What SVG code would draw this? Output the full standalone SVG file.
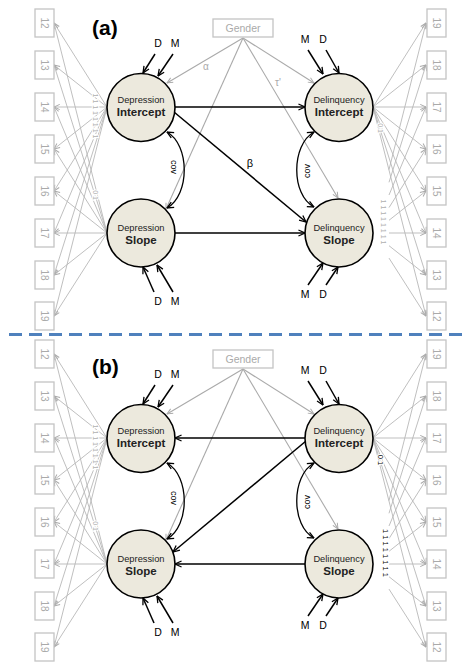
<svg xmlns="http://www.w3.org/2000/svg" width="476" height="671" viewBox="0 0 476 671">
<defs>
<marker id="ab" viewBox="0 0 10 10" refX="9.2" refY="5" markerWidth="8" markerHeight="8" markerUnits="userSpaceOnUse" orient="auto-start-reverse"><path d="M1,1.3 L9.2,5 L1,8.7" fill="none" stroke="#000" stroke-width="1.6"/></marker>
<marker id="ag" viewBox="0 0 10 10" refX="9.2" refY="5" markerWidth="7" markerHeight="7" markerUnits="userSpaceOnUse" orient="auto"><path d="M1,1.3 L9.2,5 L1,8.7" fill="none" stroke="#aaa" stroke-width="1.4"/></marker>
</defs>
<style>
text{font-family:"Liberation Sans",Arial,sans-serif}
.ind{stroke:#b8b8b8;stroke-width:0.9;fill:none;marker-end:url(#ag)}
.gen{stroke:#aaa;stroke-width:1.1;fill:none;marker-end:url(#ag)}
.blk{stroke:#000;stroke-width:1.5;fill:none;marker-end:url(#ab)}
.cov{stroke:#000;stroke-width:1.3;fill:none;marker-start:url(#ab);marker-end:url(#ab)}
.box rect{fill:#fff;stroke:#c4c4c4;stroke-width:1.3}
.box text{font-size:10px;fill:#aaa}
.lat circle{fill:#ece9dd;stroke:#000;stroke-width:1.6}
.lat text{text-anchor:middle;fill:#222}
.t1{font-size:9.3px}
.t2{font-size:11.5px;font-weight:bold}
.dm{font-size:10.5px;fill:#000;text-anchor:middle}
.ld{font-size:7px;fill:#b0b0b0;text-anchor:middle;stroke:#fff;stroke-width:2.2;paint-order:stroke}
.ldb{font-size:7.5px;fill:#000;text-anchor:middle;stroke:#fff;stroke-width:2.2;paint-order:stroke}
.gl{font-size:10px;fill:#aaa;text-anchor:middle}
.covt{font-size:9px;fill:#000;text-anchor:middle}
.gbox rect{fill:#fff;stroke:#c4c4c4;stroke-width:1.3}
.gbox text{font-size:10.5px;fill:#aaa;text-anchor:middle}
.ttl{font-size:21px;font-weight:bold;fill:#000}
</style>
<rect width="476" height="671" fill="#fff"/>

<!-- ================= PANEL A ================= -->
<g id="panel-a">
<text class="ttl" x="92" y="34.5">(a)</text>
<g id="a-connectors">
 <path class="ind" d="M107,107 L54,23"/><path class="ind" d="M107,107 L54,65"/><path class="ind" d="M107,107 L54,107"/><path class="ind" d="M107,107 L54,149"/>
 <path class="ind" d="M107,107 L54,191"/><path class="ind" d="M107,107 L54,233"/><path class="ind" d="M107,107 L54,275"/><path class="ind" d="M107,107 L54,316"/>
 <path class="ind" d="M107,233 L54,23"/><path class="ind" d="M107,233 L54,65"/><path class="ind" d="M107,233 L54,107"/><path class="ind" d="M107,233 L54,149"/>
 <path class="ind" d="M107,233 L54,191"/><path class="ind" d="M107,233 L54,233"/><path class="ind" d="M107,233 L54,275"/><path class="ind" d="M107,233 L54,316"/>
 <path class="ind" d="M373,107 L426,23"/><path class="ind" d="M373,107 L426,65"/><path class="ind" d="M373,107 L426,107"/><path class="ind" d="M373,107 L426,149"/>
 <path class="ind" d="M373,107 L426,191"/><path class="ind" d="M373,107 L426,233"/><path class="ind" d="M373,107 L426,275"/><path class="ind" d="M373,107 L426,316"/>
 <path class="ind" d="M389,169.6 L426,23"/><path class="ind" d="M389,182.3 L426,65"/><path class="ind" d="M389,195 L426,107"/><path class="ind" d="M389,207.6 L426,149"/>
 <path class="ind" d="M389,220.3 L426,191"/><path class="ind" d="M389,233 L426,233"/><path class="ind" d="M389,245.7 L426,275"/><path class="ind" d="M389,258.1 L426,316"/>
 <path class="gen" d="M243,38 L167,83"/>
 <path class="gen" d="M243,38 L314,83"/>
 <path class="gen" d="M243,38 L166,209"/>
 <path class="gen" d="M243,38 L338,198"/>
 <path class="blk" d="M175,107 L305,107"/>
 <path class="blk" d="M174,112 L306,222"/>
 <path class="blk" d="M175,233 L305,233"/>
 <path class="blk" d="M155,54 L143,73"/><path class="blk" d="M173,54 L158,76"/>
 <path class="blk" d="M154,292 L143,267"/><path class="blk" d="M173,292 L157,265"/>
 <path class="blk" d="M308,50 L323,74"/><path class="blk" d="M326,50 L339,73"/>
 <path class="blk" d="M308,285 L323,263"/><path class="blk" d="M326,285 L338,267"/>
 <path class="cov" d="M167,132 C190,145 190,195 167,208"/>
 <path class="cov" d="M314,132 C291,145 291,195 314,207"/>
 <text class="gl" x="206" y="70">α</text>
 <text class="gl" x="278" y="86">τ'</text>
 <text x="250" y="167" style="font-size:11px;text-anchor:middle;fill:#000">β</text>
 <text class="covt" x="170.5" y="167" transform="rotate(90 170.5 167)">cov</text>
 <text class="covt" x="310" y="171" transform="rotate(-90 310 171)">cov</text>
 <text class="dm" x="158" y="47">D</text><text class="dm" x="175" y="47">M</text>
 <text class="dm" x="158" y="305">D</text><text class="dm" x="175" y="305">M</text>
 <text class="dm" x="305" y="43">M</text><text class="dm" x="323" y="43">D</text>
 <text class="dm" x="305" y="298">M</text><text class="dm" x="323" y="298">D</text>
 <text class="ld" x="92.5" y="116" transform="rotate(90 92.5 116)">1 1 1 1 1 1 1 1</text>
 <text class="ld" x="92.5" y="195" transform="rotate(90 92.5 195)">0 1</text>
 <text class="ld" x="377.5" y="128" transform="rotate(90 377.5 128)">0 1</text>
 <text class="ld" x="380.5" y="222" transform="rotate(90 380.5 222)">1 1 1 1 1 1 1 1</text>
</g>
<g id="a-gender" class="gbox"><rect x="213" y="19" width="60" height="18"/><text x="243" y="32">Gender</text></g>
<g id="a-dep-int" class="lat"><circle cx="141" cy="107.5" r="34"/><text class="t1" x="141" y="102.5">Depression</text><text class="t2" x="141" y="115.5">Intercept</text></g>
<g id="a-dep-slope" class="lat"><circle cx="141" cy="233" r="34"/><text class="t1" x="141" y="231">Depression</text><text class="t2" x="141" y="243.5">Slope</text></g>
<g id="a-del-int" class="lat"><circle cx="339" cy="107.5" r="34"/><text class="t1" x="339" y="102.5">Delinquency</text><text class="t2" x="339" y="115.5">Intercept</text></g>
<g id="a-del-slope" class="lat"><circle cx="339" cy="233" r="34"/><text class="t1" x="339" y="231">Delinquency</text><text class="t2" x="339" y="243.5">Slope</text></g>
<g id="a-l12" class="box"><rect x="35" y="9" width="19" height="28"/><text x="41" y="23" text-anchor="middle" transform="rotate(90 41 23)">12</text></g>
<g id="a-l13" class="box"><rect x="35" y="51" width="19" height="28"/><text x="41" y="65" text-anchor="middle" transform="rotate(90 41 65)">13</text></g>
<g id="a-l14" class="box"><rect x="35" y="93" width="19" height="28"/><text x="41" y="107" text-anchor="middle" transform="rotate(90 41 107)">14</text></g>
<g id="a-l15" class="box"><rect x="35" y="135" width="19" height="28"/><text x="41" y="149" text-anchor="middle" transform="rotate(90 41 149)">15</text></g>
<g id="a-l16" class="box"><rect x="35" y="177" width="19" height="28"/><text x="41" y="191" text-anchor="middle" transform="rotate(90 41 191)">16</text></g>
<g id="a-l17" class="box"><rect x="35" y="219" width="19" height="28"/><text x="41" y="233" text-anchor="middle" transform="rotate(90 41 233)">17</text></g>
<g id="a-l18" class="box"><rect x="35" y="261" width="19" height="28"/><text x="41" y="275" text-anchor="middle" transform="rotate(90 41 275)">18</text></g>
<g id="a-l19" class="box"><rect x="35" y="302" width="19" height="28"/><text x="41" y="316" text-anchor="middle" transform="rotate(90 41 316)">19</text></g>
<g id="a-r19" class="box"><rect x="427" y="9" width="19" height="28"/><text x="433" y="23" text-anchor="middle" transform="rotate(90 433 23)">19</text></g>
<g id="a-r18" class="box"><rect x="427" y="51" width="19" height="28"/><text x="433" y="65" text-anchor="middle" transform="rotate(90 433 65)">18</text></g>
<g id="a-r17" class="box"><rect x="427" y="93" width="19" height="28"/><text x="433" y="107" text-anchor="middle" transform="rotate(90 433 107)">17</text></g>
<g id="a-r16" class="box"><rect x="427" y="135" width="19" height="28"/><text x="433" y="149" text-anchor="middle" transform="rotate(90 433 149)">16</text></g>
<g id="a-r15" class="box"><rect x="427" y="177" width="19" height="28"/><text x="433" y="191" text-anchor="middle" transform="rotate(90 433 191)">15</text></g>
<g id="a-r14" class="box"><rect x="427" y="219" width="19" height="28"/><text x="433" y="233" text-anchor="middle" transform="rotate(90 433 233)">14</text></g>
<g id="a-r13" class="box"><rect x="427" y="261" width="19" height="28"/><text x="433" y="275" text-anchor="middle" transform="rotate(90 433 275)">13</text></g>
<g id="a-r12" class="box"><rect x="427" y="302" width="19" height="28"/><text x="433" y="316" text-anchor="middle" transform="rotate(90 433 316)">12</text></g>
</g>

<line x1="9" y1="334.5" x2="467" y2="334.5" stroke="#4f81bd" stroke-width="3" stroke-dasharray="13 7"/>

<!-- ================= PANEL B ================= -->
<text class="ttl" x="92" y="373.5">(b)</text>
<g id="panel-b" transform="translate(0 331)">
<g id="b-connectors">
 <path class="ind" d="M107,107 L54,23"/><path class="ind" d="M107,107 L54,65"/><path class="ind" d="M107,107 L54,107"/><path class="ind" d="M107,107 L54,149"/>
 <path class="ind" d="M107,107 L54,191"/><path class="ind" d="M107,107 L54,233"/><path class="ind" d="M107,107 L54,275"/><path class="ind" d="M107,107 L54,316"/>
 <path class="ind" d="M107,233 L54,23"/><path class="ind" d="M107,233 L54,65"/><path class="ind" d="M107,233 L54,107"/><path class="ind" d="M107,233 L54,149"/>
 <path class="ind" d="M107,233 L54,191"/><path class="ind" d="M107,233 L54,233"/><path class="ind" d="M107,233 L54,275"/><path class="ind" d="M107,233 L54,316"/>
 <path class="ind" d="M373,107 L426,23"/><path class="ind" d="M373,107 L426,65"/><path class="ind" d="M373,107 L426,107"/><path class="ind" d="M373,107 L426,149"/>
 <path class="ind" d="M373,107 L426,191"/><path class="ind" d="M373,107 L426,233"/><path class="ind" d="M373,107 L426,275"/><path class="ind" d="M373,107 L426,316"/>
 <path class="ind" d="M389,169.6 L426,23"/><path class="ind" d="M389,182.3 L426,65"/><path class="ind" d="M389,195 L426,107"/><path class="ind" d="M389,207.6 L426,149"/>
 <path class="ind" d="M389,220.3 L426,191"/><path class="ind" d="M389,233 L426,233"/><path class="ind" d="M389,245.7 L426,275"/><path class="ind" d="M389,258.1 L426,316"/>
 <path class="gen" d="M243,38 L167,83"/>
 <path class="gen" d="M243,38 L314,83"/>
 <path class="gen" d="M243,38 L166,209"/>
 <path class="gen" d="M243,38 L338,198"/>
 <path class="blk" d="M305,107 L175,107"/>
 <path class="blk" d="M306,110 L173,221"/>
 <path class="blk" d="M305,233 L175,233"/>
 <path class="blk" d="M155,54 L143,73"/><path class="blk" d="M173,54 L158,76"/>
 <path class="blk" d="M154,292 L143,267"/><path class="blk" d="M173,292 L157,265"/>
 <path class="blk" d="M308,50 L323,74"/><path class="blk" d="M326,50 L339,73"/>
 <path class="blk" d="M308,285 L323,263"/><path class="blk" d="M326,285 L338,267"/>
 <path class="cov" d="M167,132 C190,145 190,195 167,208"/>
 <path class="cov" d="M314,132 C291,145 291,195 314,207"/>
 <text class="covt" x="170.5" y="167" transform="rotate(90 170.5 167)">cov</text>
 <text class="covt" x="310" y="171" transform="rotate(-90 310 171)">cov</text>
 <text class="dm" x="158" y="47">D</text><text class="dm" x="175" y="47">M</text>
 <text class="dm" x="158" y="305">D</text><text class="dm" x="175" y="305">M</text>
 <text class="dm" x="305" y="43">M</text><text class="dm" x="323" y="43">D</text>
 <text class="dm" x="305" y="298">M</text><text class="dm" x="323" y="298">D</text>
 <text class="ld" x="92.5" y="116" transform="rotate(90 92.5 116)">1 1 1 1 1 1 1 1</text>
 <text class="ld" x="92.5" y="195" transform="rotate(90 92.5 195)">0 1</text>
 <text class="ldb" x="377.5" y="129" transform="rotate(90 377.5 129)">0 1</text>
 <text class="ldb" x="382.5" y="222" transform="rotate(90 382.5 222)">1 1 1 1 1 1 1 1</text>
</g>
<g id="b-gender" class="gbox"><rect x="213" y="19" width="60" height="18"/><text x="243" y="32">Gender</text></g>
<g id="b-dep-int" class="lat"><circle cx="141" cy="107.5" r="34"/><text class="t1" x="141" y="102.5">Depression</text><text class="t2" x="141" y="115.5">Intercept</text></g>
<g id="b-dep-slope" class="lat"><circle cx="141" cy="233" r="34"/><text class="t1" x="141" y="231">Depression</text><text class="t2" x="141" y="243.5">Slope</text></g>
<g id="b-del-int" class="lat"><circle cx="339" cy="107.5" r="34"/><text class="t1" x="339" y="102.5">Delinquency</text><text class="t2" x="339" y="115.5">Intercept</text></g>
<g id="b-del-slope" class="lat"><circle cx="339" cy="233" r="34"/><text class="t1" x="339" y="231">Delinquency</text><text class="t2" x="339" y="243.5">Slope</text></g>
<g id="b-l12" class="box"><rect x="35" y="9" width="19" height="28"/><text x="41" y="23" text-anchor="middle" transform="rotate(90 41 23)">12</text></g>
<g id="b-l13" class="box"><rect x="35" y="51" width="19" height="28"/><text x="41" y="65" text-anchor="middle" transform="rotate(90 41 65)">13</text></g>
<g id="b-l14" class="box"><rect x="35" y="93" width="19" height="28"/><text x="41" y="107" text-anchor="middle" transform="rotate(90 41 107)">14</text></g>
<g id="b-l15" class="box"><rect x="35" y="135" width="19" height="28"/><text x="41" y="149" text-anchor="middle" transform="rotate(90 41 149)">15</text></g>
<g id="b-l16" class="box"><rect x="35" y="177" width="19" height="28"/><text x="41" y="191" text-anchor="middle" transform="rotate(90 41 191)">16</text></g>
<g id="b-l17" class="box"><rect x="35" y="219" width="19" height="28"/><text x="41" y="233" text-anchor="middle" transform="rotate(90 41 233)">17</text></g>
<g id="b-l18" class="box"><rect x="35" y="261" width="19" height="28"/><text x="41" y="275" text-anchor="middle" transform="rotate(90 41 275)">18</text></g>
<g id="b-l19" class="box"><rect x="35" y="302" width="19" height="28"/><text x="41" y="316" text-anchor="middle" transform="rotate(90 41 316)">19</text></g>
<g id="b-r19" class="box"><rect x="427" y="9" width="19" height="28"/><text x="433" y="23" text-anchor="middle" transform="rotate(90 433 23)">19</text></g>
<g id="b-r18" class="box"><rect x="427" y="51" width="19" height="28"/><text x="433" y="65" text-anchor="middle" transform="rotate(90 433 65)">18</text></g>
<g id="b-r17" class="box"><rect x="427" y="93" width="19" height="28"/><text x="433" y="107" text-anchor="middle" transform="rotate(90 433 107)">17</text></g>
<g id="b-r16" class="box"><rect x="427" y="135" width="19" height="28"/><text x="433" y="149" text-anchor="middle" transform="rotate(90 433 149)">16</text></g>
<g id="b-r15" class="box"><rect x="427" y="177" width="19" height="28"/><text x="433" y="191" text-anchor="middle" transform="rotate(90 433 191)">15</text></g>
<g id="b-r14" class="box"><rect x="427" y="219" width="19" height="28"/><text x="433" y="233" text-anchor="middle" transform="rotate(90 433 233)">14</text></g>
<g id="b-r13" class="box"><rect x="427" y="261" width="19" height="28"/><text x="433" y="275" text-anchor="middle" transform="rotate(90 433 275)">13</text></g>
<g id="b-r12" class="box"><rect x="427" y="302" width="19" height="28"/><text x="433" y="316" text-anchor="middle" transform="rotate(90 433 316)">12</text></g>
</g>
</svg>
